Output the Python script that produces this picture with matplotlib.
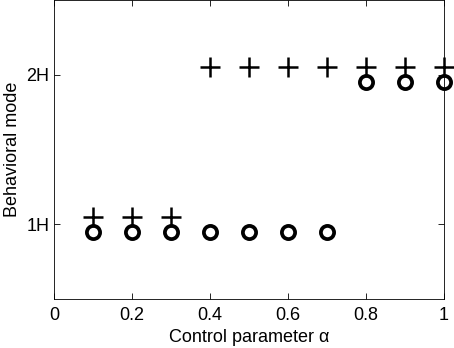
import matplotlib
matplotlib.use("Agg")
import matplotlib.pyplot as plt

plt.rcParams['font.family'] = ['Liberation Sans', 'DejaVu Sans']

# control parameter values
alpha = [0.1, 0.2, 0.3, 0.4, 0.5, 0.6, 0.7, 0.8, 0.9, 1.0]
# behavioural mode of each branch (offset slightly so both are visible)
mode_plus = [1.05, 1.05, 1.05, 2.05, 2.05, 2.05, 2.05, 2.05, 2.05, 2.05]
mode_circ = [0.95, 0.95, 0.95, 0.95, 0.95, 0.95, 0.95, 1.95, 1.95, 1.95]

fig = plt.figure(figsize=(4.54, 3.48), dpi=100)
ax = fig.add_axes([54 / 454, 49 / 348, 390 / 454, 299 / 348])

ax.plot(alpha, mode_plus, linestyle='none', marker='+', markersize=14,
        markeredgewidth=1.8, color='black', clip_on=False)
ax.plot(alpha, mode_circ, linestyle='none', marker='o', markersize=9.5,
        markeredgewidth=2.7, markerfacecolor='none', color='black', clip_on=False)

ax.set_xlim(0, 1)
ax.set_ylim(0.5, 2.5)
ax.set_xticks([0, 0.2, 0.4, 0.6, 0.8, 1])
ax.set_xticklabels(['0', '0.2', '0.4', '0.6', '0.8', '1'])
ax.set_yticks([1, 2])
ax.set_yticklabels(['1H', '2H'])
ax.tick_params(direction='in', top=True, right=True, labelsize=13, length=4, width=0.6)
ax.tick_params(axis='x', pad=6)
for s in ax.spines.values():
    s.set_linewidth(0.6)

ax.set_xlabel('Control parameter α', fontsize=13, labelpad=3)
ax.set_ylabel('Behavioral mode', fontsize=13, labelpad=4)

fig.savefig('out.png', dpi=100)
